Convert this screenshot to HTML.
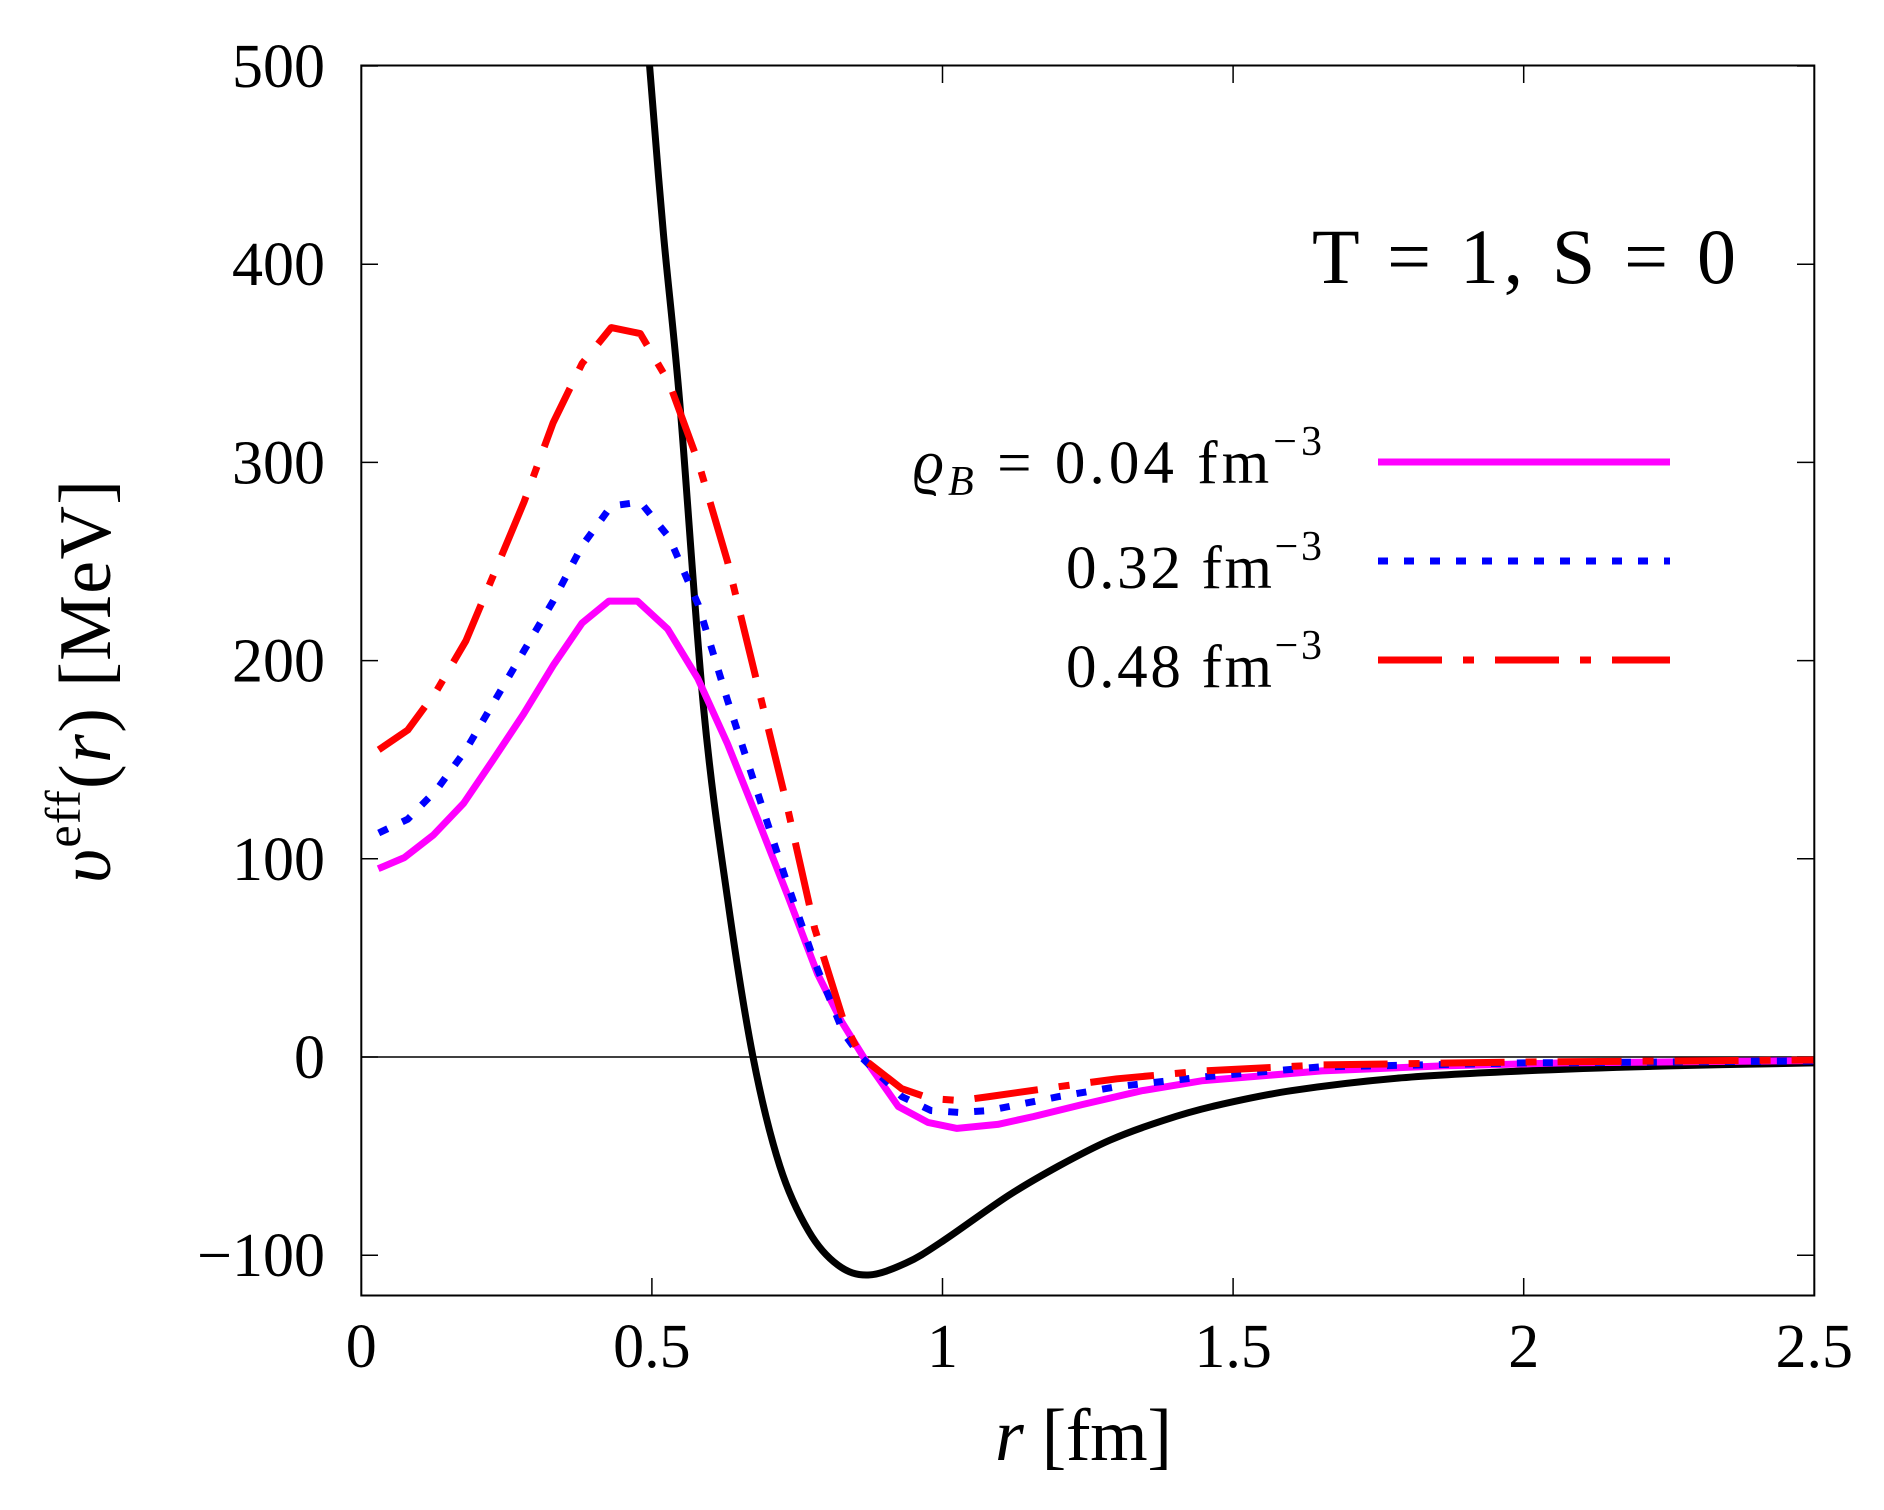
<!DOCTYPE html>
<html><head><meta charset="utf-8"><style>
html,body{margin:0;padding:0;background:#fff;}
svg{display:block;}
text{font-family:"Liberation Serif",serif;fill:#000;}
</style></head><body>
<svg id="s" width="1884" height="1510" viewBox="0 0 1884 1510" xmlns="http://www.w3.org/2000/svg">
<rect x="0" y="0" width="1884" height="1510" fill="#fff"/>
<defs><clipPath id="c"><rect x="361" y="66" width="1454" height="1230"/></clipPath></defs>
<line x1="361" y1="1057" x2="1814" y2="1057" stroke="#000" stroke-width="1.5"/>
<g id="ticks" stroke="#000" stroke-width="1.5"></g>
<g clip-path="url(#c)" fill="none" stroke-linejoin="round">
<path id="pk" stroke="#000" stroke-width="7"/>
<path id="pm" stroke="#ff00ff" stroke-width="7"/>
<path id="pb" stroke="#0000ff" stroke-width="7" stroke-dasharray="10 16"/>
<path id="pr" stroke="#ff0000" stroke-width="7" stroke-dasharray="64 21 11 21"/>
</g>
<rect x="361.3" y="65.5" width="1453" height="1230" fill="none" stroke="#000" stroke-width="2"/>
<g id="lab" font-size="62"></g>
<text x="1312" y="283" font-size="78" textLength="424" lengthAdjust="spacing">T = 1,  S = 0</text>
<g font-size="61">
<text x="913" y="483" textLength="409" lengthAdjust="spacing"><tspan font-style="italic">ϱ</tspan><tspan font-style="italic" font-size="42" dy="12">B</tspan><tspan dy="-12"> = 0.04 fm</tspan><tspan font-size="42" dy="-28">−3</tspan></text>
<text x="1066" y="588" textLength="256" lengthAdjust="spacing">0.32 fm<tspan font-size="42" dy="-28">−3</tspan></text>
<text x="1066" y="687" textLength="256" lengthAdjust="spacing">0.48 fm<tspan font-size="42" dy="-28">−3</tspan></text>
</g>
<line x1="1378" y1="462" x2="1670" y2="462" stroke="#ff00ff" stroke-width="7"/>
<line x1="1378" y1="561" x2="1670" y2="561" stroke="#0000ff" stroke-width="7" stroke-dasharray="10 16"/>
<line x1="1378" y1="660" x2="1670" y2="660" stroke="#ff0000" stroke-width="7" stroke-dasharray="64 21 11 21"/>
<text x="995" y="1460" font-size="74" textLength="177" lengthAdjust="spacing"><tspan font-style="italic">r</tspan>  [fm]</text>
<text transform="translate(110,883) rotate(-90)" font-size="74" textLength="403" lengthAdjust="spacing"><tspan font-style="italic">υ</tspan><tspan font-size="50" dy="-30">eff</tspan><tspan dy="30">(</tspan><tspan font-style="italic">r</tspan>)  [MeV]</text>
</svg>
<script>
var X=function(x){return 361.3+x*581.2;},Y=function(v){return 1057-v*1.982;};
var ns="http://www.w3.org/2000/svg";
var t=document.getElementById('ticks'),lab=document.getElementById('lab');
function ln(a,b,c,d){var l=document.createElementNS(ns,'line');l.setAttribute('x1',a);l.setAttribute('y1',b);l.setAttribute('x2',c);l.setAttribute('y2',d);t.appendChild(l);}
function tx(x,y,s,anc){var e=document.createElementNS(ns,'text');e.setAttribute('x',x);e.setAttribute('y',y);e.setAttribute('text-anchor',anc);e.textContent=s;lab.appendChild(e);}
[0,0.5,1,1.5,2,2.5].forEach(function(x){var px=X(x);ln(px,1295,px,1278);ln(px,66,px,83);tx(px,1367,String(x),'middle');});
[-100,0,100,200,300,400,500].forEach(function(v){var py=Y(v);ln(361,py,378,py);ln(1814,py,1797,py);tx(325,py+21,v<0?'−100':String(v),'end');});
function lin(pts){return pts.map(function(p,i){return (i?'L':'M')+X(p[0]).toFixed(1)+','+Y(p[1]).toFixed(1);}).join('');}
function cr(pts){var q=pts.map(function(p){return [X(p[0]),Y(p[1])];});var d='M'+q[0][0]+','+q[0][1];
for(var i=0;i<q.length-1;i++){var p0=q[Math.max(0,i-1)],p1=q[i],p2=q[i+1],p3=q[Math.min(q.length-1,i+2)];
d+='C'+(p1[0]+(p2[0]-p0[0])/6).toFixed(1)+','+(p1[1]+(p2[1]-p0[1])/6).toFixed(1)+' '+(p2[0]-(p3[0]-p1[0])/6).toFixed(1)+','+(p2[1]-(p3[1]-p1[1])/6).toFixed(1)+' '+p2[0].toFixed(1)+','+p2[1].toFixed(1);}return d;}
document.getElementById('pk').setAttribute('d',cr([[0.48,560],[0.496,500],[0.52,415],[0.548,330],[0.589,176],[0.63,80],[0.674,0],[0.72,-55],[0.77,-88],[0.82,-105],[0.872,-110],[0.937,-104],[1.0,-93],[1.113,-70],[1.2,-55],[1.288,-42],[1.38,-32],[1.464,-25],[1.6,-17],[1.79,-10.5],[2.0,-7],[2.25,-4.5],[2.5,-3]]));
document.getElementById('pm').setAttribute('d',lin([[0.029,95],[0.074,100.6],[0.124,112],[0.176,128],[0.227,150],[0.279,173],[0.331,198],[0.38,219],[0.426,230],[0.475,230],[0.527,216],[0.579,191],[0.63,158],[0.682,120],[0.733,82],[0.785,42],[0.826,18],[0.864,0],[0.924,-25],[0.975,-33],[1.025,-36],[1.095,-34],[1.157,-30],[1.24,-24],[1.343,-17],[1.446,-12],[1.653,-7],[1.86,-4.5],[2.07,-3],[2.5,-1.8]]));
document.getElementById('pb').setAttribute('d',lin([[0.03,113],[0.08,120],[0.13,135],[0.18,155],[0.23,180],[0.28,205],[0.33,230],[0.38,258],[0.43,278],[0.48,280],[0.53,262],[0.58,228],[0.63,180],[0.68,135],[0.73,90],[0.78,48],[0.83,12],[0.86,0],[0.93,-20],[0.98,-27],[1.03,-28],[1.08,-27],[1.2,-20],[1.3,-15],[1.45,-10],[1.65,-5],[2,-3],[2.5,-2]]));
document.getElementById('pr').setAttribute('d',lin([[0.03,155],[0.08,165],[0.13,185],[0.18,210],[0.23,245],[0.28,280],[0.33,320],[0.38,350],[0.43,368],[0.48,365],[0.53,340],[0.58,300],[0.63,250],[0.68,190],[0.73,130],[0.78,65],[0.83,18],[0.86,0],[0.93,-16],[0.98,-21],[1.03,-22],[1.08,-20],[1.2,-15],[1.3,-11],[1.45,-7],[1.65,-4],[2,-2.5],[2.5,-1.5]]));
</script>
</body></html>
